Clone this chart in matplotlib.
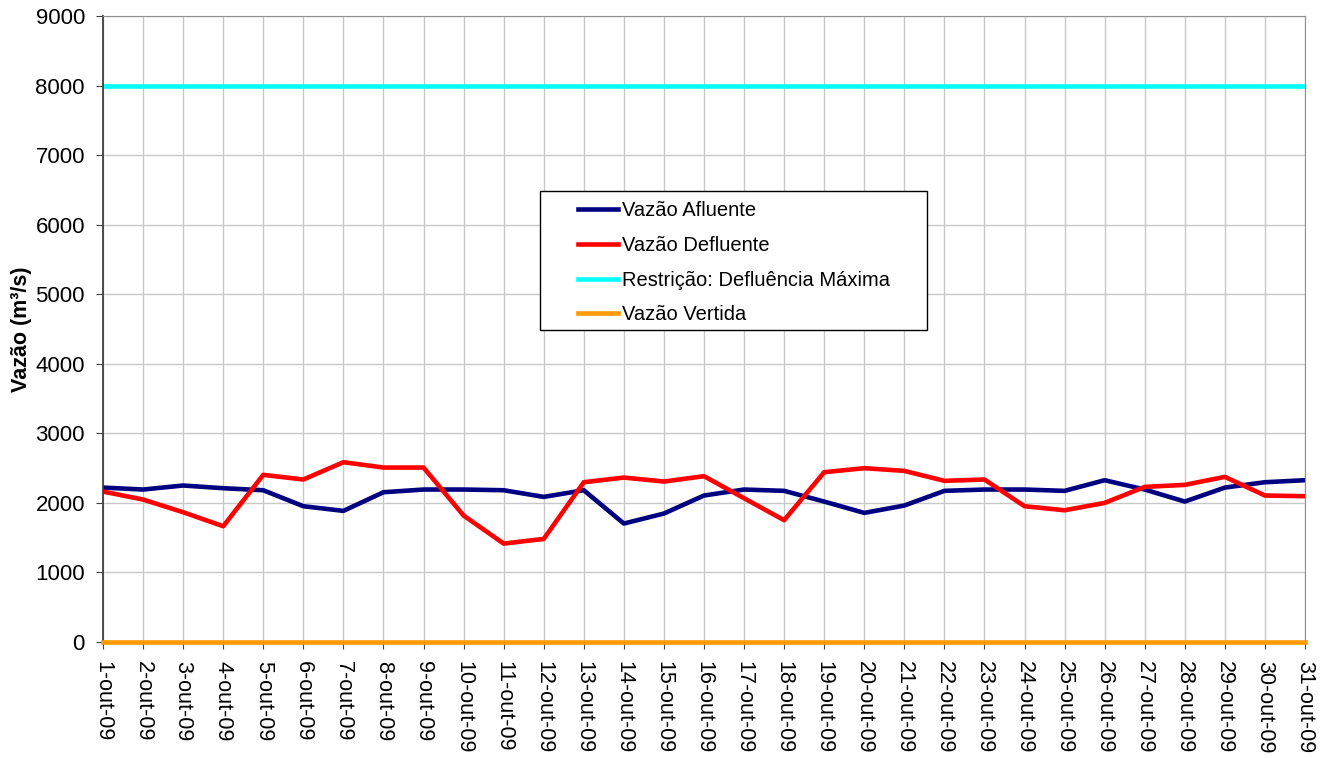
import numpy as np
from matplotlib import pyplot as plt
from matplotlib.patches import Rectangle

plt.rcParams['font.family'] = ['Liberation Sans', 'DejaVu Sans']

#--------------------data
dias = [str(d) + "-out-09" for d in range(1, 32)]
afluente = [2220, 2192, 2250, 2211, 2182, 1952, 1885, 2153, 2192, 2192,
            2182, 2086, 2182, 1703, 1847, 2106, 2192, 2173, 2019, 1856,
            1962, 2173, 2192, 2192, 2173, 2326, 2192, 2019, 2220, 2297,
            2326]
defluente = [2163, 2048, 1866, 1664, 2403, 2336, 2585, 2508, 2508, 1818,
             1415, 1482, 2297, 2364, 2307, 2384, 2067, 1751, 2441, 2499,
             2460, 2317, 2336, 1952, 1894, 2000, 2230, 2259, 2374, 2106,
             2096]
restricao = [8000] * 31
vertida = [0] * 31

x = np.arange(len(dias))

fig = plt.figure(figsize=(13.28, 7.58), dpi=100)
ax = fig.add_axes([103/1328, 1 - 642/758, 1202/1328, 626/758])

ax.plot(x, afluente, color="#000080", lw=3.3, label="Vazão Afluente")
ax.plot(x, defluente, color="#FF0000", lw=3.3, label="Vazão Defluente")
ax.plot(x, restricao, color="#00FFFF", lw=3.3, label="Restrição: Defluência Máxima")
ax.plot(x, vertida, color="#FF9900", lw=3.3, label="Vazão Vertida",
        clip_on=False, zorder=4)

ax.set_xlim(0, len(dias) - 1)
ax.set_ylim(0, 9000)
ax.set_yticks(range(0, 9001, 1000))
ax.set_xticks(x)
ax.set_xticklabels(dias, rotation=-90, fontsize=15.5)
ax.tick_params(axis='y', labelsize=16, length=5, pad=8, color="#404040")
ax.tick_params(axis='x', length=5, pad=9, color="#404040")
ax.grid(True, color="#c8c8c8", lw=1)
ax.set_axisbelow(True)
for s in ['left', 'bottom']:
    ax.spines[s].set_color("#404040")
    ax.spines[s].set_linewidth(1.3)
for s in ['top', 'right']:
    ax.spines[s].set_color("#909090")

ax.set_ylabel("Vazão (m³/s)", fontsize=15.5, fontweight='bold')
ax.yaxis.set_label_coords(-0.059, 0.5)

# caixa da legenda
caixa = Rectangle((0.3636, 0.4984), 0.322, 0.222, transform=ax.transAxes,
                  facecolor='white', edgecolor='black', lw=1, zorder=5)
ax.add_patch(caixa)
leg = ax.legend(loc='upper left', bbox_to_anchor=(0.3952, 0.704), fontsize=14.5,
                frameon=False, handlelength=2.0, borderpad=0, labelspacing=0.78,
                handletextpad=0.2, borderaxespad=0)
leg.set_zorder(6)

fig.savefig("out.png", dpi=100)
